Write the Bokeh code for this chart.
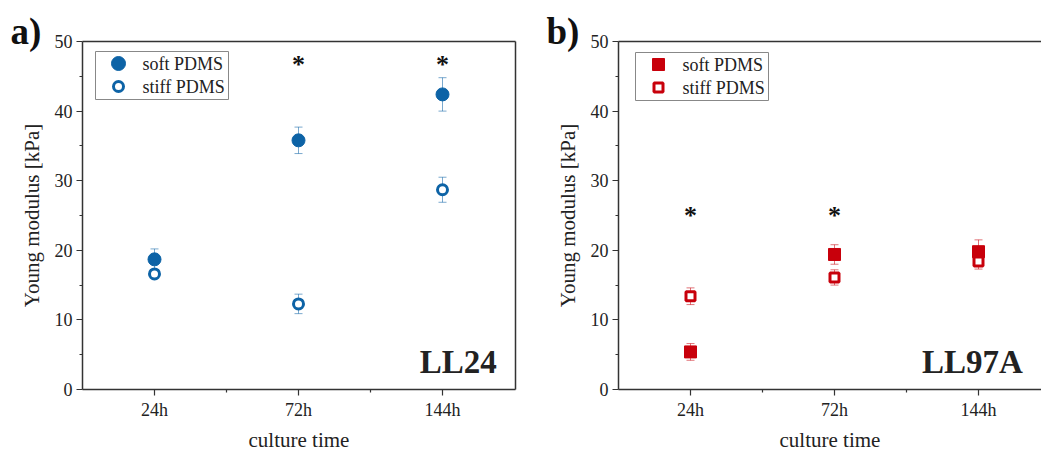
from bokeh.plotting import figure
from bokeh.models import (ColumnDataSource, Whisker, TeeHead, Label,
                          FixedTicker, LinearAxis, Range1d)
from bokeh.layouts import row
from bokeh.embed import file_html
from bokeh.resources import INLINE

# ---------------- data ----------------
categories = ["24h", "72h", "144h"]
series_names = ["soft PDMS", "stiff PDMS"]

ll24_soft = [18.7, 35.8, 42.4]
ll24_soft_err = [1.5, 1.9, 2.4]
ll24_stiff = [16.6, 12.3, 28.7]
ll24_stiff_err = [0.5, 1.4, 1.8]
ll24_sig = [False, True, True]
ll24_star_level = 46.7

ll97a_soft = [5.4, 19.4, 19.8]
ll97a_soft_err = [1.2, 1.4, 1.7]
ll97a_stiff = [13.4, 16.1, 18.4]
ll97a_stiff_err = [1.2, 1.1, 1.1]
ll97a_sig = [True, True, False]
ll97a_star_level = 25.0

y_ticks = [0, 10, 20, 30, 40, 50]
y_minor = [5, 15, 25, 35, 45]

FONT = "Liberation Serif"
AXIS_COLOR = "#333333"
TEXT_COLOR = "#222222"
FRAME_H = 348
Y_MAX = 50
PX_X = 144.0


def dx(px):   # pixel offset from frame left -> data x
    return -0.5 + px / PX_X


def dy(px):   # pixel offset from frame top -> data y
    return Y_MAX - px * Y_MAX / FRAME_H


def bare_axis():
    return LinearAxis(ticker=FixedTicker(ticks=[]), axis_line_color=AXIS_COLOR,
                      axis_line_width=1.5, major_tick_out=0, major_tick_in=0,
                      minor_tick_out=0, minor_tick_in=0, major_label_standoff=0,
                      major_label_text_font_size="0px")


def make_panel(letter, name, soft, soft_err, stiff, stiff_err, sig, star_level,
               color, marker, frame_w, left_border, right_border, right_axis,
               fill_size, open_size, leg_size, leg_open, leg_dx, leg_dy):
    xs = list(range(len(categories)))
    x_end = -0.5 + frame_w / PX_X
    p = figure(frame_width=frame_w, frame_height=FRAME_H,
               x_range=Range1d(-0.5, x_end), y_range=Range1d(0, Y_MAX),
               output_backend="svg", toolbar_location=None,
               min_border_left=left_border, min_border_right=right_border,
               min_border_top=39, min_border_bottom=62)
    p.outline_line_color = None
    p.xgrid.visible = False
    p.ygrid.visible = False
    p.background_fill_color = "white"
    p.border_fill_color = "white"

    for ax in (p.xaxis[0], p.yaxis[0]):
        ax.axis_line_color = AXIS_COLOR
        ax.axis_line_width = 1.5
        ax.major_tick_line_color = AXIS_COLOR
        ax.minor_tick_line_color = AXIS_COLOR
        ax.major_tick_line_width = 1.2
        ax.minor_tick_line_width = 1.2
        ax.major_tick_in = 0
        ax.major_tick_out = 6
        ax.minor_tick_in = 0
        ax.minor_tick_out = 3
        ax.major_label_text_font = FONT
        ax.major_label_text_font_size = "18px"
        ax.major_label_text_color = TEXT_COLOR
        ax.axis_label_text_font = FONT
        ax.axis_label_text_font_size = "21px"
        ax.axis_label_text_font_style = "normal"
        ax.axis_label_text_color = TEXT_COLOR

    p.xaxis.ticker = FixedTicker(ticks=xs, minor_ticks=[x + 0.5 for x in xs[:-1]])
    p.xaxis.major_label_overrides = {x: c for x, c in zip(xs, categories)}
    p.xaxis.axis_label = "culture time"
    p.xaxis.major_label_standoff = 4
    p.xaxis.axis_label_standoff = 5

    p.yaxis.ticker = FixedTicker(ticks=y_ticks, minor_ticks=y_minor)
    p.yaxis.axis_label = "Young modulus [kPa]"
    p.yaxis.major_label_standoff = 4
    p.yaxis.axis_label_standoff = 8

    p.add_layout(bare_axis(), "above")
    if right_axis:
        p.add_layout(bare_axis(), "right")

    for vals, errs in ((soft, soft_err), (stiff, stiff_err)):
        src = ColumnDataSource(dict(x=xs,
                                    upper=[v + e for v, e in zip(vals, errs)],
                                    lower=[v - e for v, e in zip(vals, errs)]))
        w = Whisker(base="x", upper="upper", lower="lower", source=src,
                    line_color=color, line_alpha=0.55, line_width=1,
                    upper_head=TeeHead(size=8, line_color=color, line_alpha=0.55, line_width=1),
                    lower_head=TeeHead(size=8, line_color=color, line_alpha=0.55, line_width=1))
        p.add_layout(w)

    soft_src = ColumnDataSource(dict(x=xs, y=soft))
    stiff_src = ColumnDataSource(dict(x=xs, y=stiff))
    p.scatter("x", "y", source=soft_src, marker=marker, size=fill_size,
              fill_color=color, line_color=color, line_width=1)
    p.scatter("x", "y", source=stiff_src, marker=marker, size=open_size,
              fill_color="white", line_color=color, line_width=3)

    sx = [x for x, s in zip(xs, sig) if s]
    star_src = ColumnDataSource(dict(x=sx, y=[star_level] * len(sx), t=["*"] * len(sx)))
    p.text("x", "y", text="t", source=star_src, text_font={"value": FONT},
           text_font_size={"value": "26px"}, text_font_style="bold",
           text_align="center", text_baseline="middle", text_color="#111111")

    # legend (box, symbols and labels)
    p.quad(left=[dx(leg_dx)], right=[dx(leg_dx + 133)],
           top=[dy(leg_dy)], bottom=[dy(leg_dy + 48)],
           fill_color="white", line_color="#888888", line_width=1)
    rows = [leg_dy + 12, leg_dy + 35]
    p.scatter([dx(leg_dx + 23)], [dy(rows[0])], marker=marker, size=leg_size,
              fill_color=color, line_color=color, line_width=1)
    p.scatter([dx(leg_dx + 23)], [dy(rows[1])], marker=marker, size=leg_open,
              fill_color="white", line_color=color, line_width=3)
    p.text([dx(leg_dx + 47)] * 2, [dy(r) for r in rows], text=series_names,
           text_font={"value": FONT}, text_font_size={"value": "18px"},
           text_color=TEXT_COLOR, text_align="left", text_baseline="middle")

    p.add_layout(Label(x=x_end - 0.13, y=4.0, text=name,
                       text_font=FONT, text_font_size="33px", text_font_style="bold",
                       text_color=TEXT_COLOR, text_align="right",
                       text_baseline="alphabetic"))
    p.add_layout(Label(x=left_border - 72, y=31, x_units="canvas", y_units="canvas",
                       text=letter,
                       text_font=FONT, text_font_size="37px", text_font_style="bold",
                       text_color="#111111", text_align="left",
                       text_baseline="alphabetic"), "above")
    return p


pa = make_panel("a)", "LL24", ll24_soft, ll24_soft_err, ll24_stiff, ll24_stiff_err,
                ll24_sig, ll24_star_level, "#0d63a6", "circle", 433, 82, 23, True,
                13, 10, 14, 10, 13, 10)
pb = make_panel("b)", "LL97A", ll97a_soft, ll97a_soft_err, ll97a_stiff, ll97a_stiff_err,
                ll97a_sig, ll97a_star_level, "#c8000b", "square", 423, 80, 0,
                False, 12, 9, 12, 9, 17, 11)

layout = row(pa, pb)
open("out.html", "w").write(file_html(layout, INLINE))
